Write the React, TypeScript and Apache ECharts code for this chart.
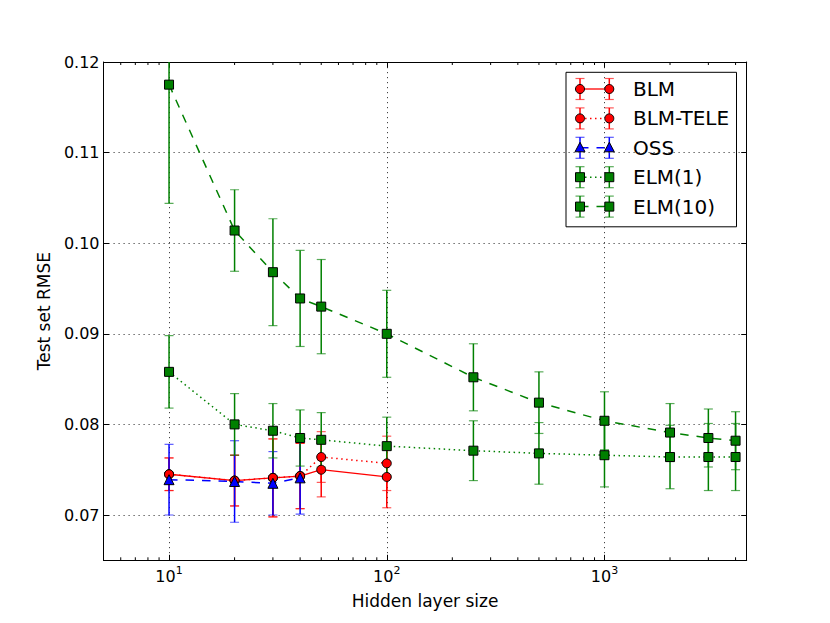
import React, { useEffect, useRef } from 'react';
import * as echarts from 'echarts';

const FONT = 'DejaVu Sans';
const X_MIN = 5;
const X_MAX = 4500;
const Y_MIN = 0.065;
const Y_MAX = 0.12;

const RED = '#ff0000';
const BLUE = '#0000ff';
const GREEN = '#008000';

// ---- data ----
const blmX = [10, 20, 30, 40, 50, 100];
const blmY = [0.0745, 0.0738, 0.0741, 0.0743, 0.075, 0.0742];
const blmErr = [0.0018, 0.0028, 0.0043, 0.0036, 0.003, 0.0034];

const teleX = [10, 20, 30, 40, 50, 100];
const teleY = [0.0745, 0.0738, 0.0741, 0.0743, 0.0764, 0.0757];
const teleErr = [0.0018, 0.0028, 0.0043, 0.0036, 0.0028, 0.003];

const ossX = [10, 20, 30, 40];
const ossY = [0.0739, 0.0737, 0.0735, 0.0741];
const ossErr = [0.0039, 0.0045, 0.0035, 0.004];

const elmX = [10, 20, 30, 40, 50, 100, 250, 500, 1000, 2000, 3000, 4000];
const elm1Y = [0.0858, 0.08, 0.0793, 0.0785, 0.0783, 0.0776, 0.0771, 0.0768, 0.0766, 0.0764, 0.0764, 0.0764];
const elm1Err = [0.004, 0.0034, 0.003, 0.0031, 0.003, 0.0032, 0.0033, 0.0034, 0.0035, 0.0035, 0.0037, 0.0037];
const elm10Y = [0.1175, 0.1014, 0.0968, 0.0939, 0.093, 0.09, 0.0852, 0.0824, 0.0804, 0.0791, 0.0785, 0.0782];
const elm10Err = [0.0131, 0.0045, 0.0059, 0.0053, 0.0052, 0.0048, 0.0037, 0.0034, 0.0032, 0.0032, 0.0032, 0.0032];

const minorTicks = [
  6, 7, 8, 9,
  20, 30, 40, 50, 60, 70, 80, 90,
  200, 300, 400, 500, 600, 700, 800, 900,
  2000, 3000, 4000,
];

const xAxisTitle = 'Hidden layer size';
const yAxisTitle = 'Test set RMSE';

type Style = 'solid' | 'dotted' | 'dashed';
type Sym = 'circle' | 'triangle' | 'rect';

const DASH: Record<Style, any> = {
  solid: 'solid',
  dotted: [1.5, 3.5],
  dashed: [8.5, 8],
};

const seriesDefs: { name: string; x: number[]; y: number[]; err: number[]; color: string; style: Style; symbol: Sym; width: number }[] = [
  { name: 'BLM', x: blmX, y: blmY, err: blmErr, color: RED, style: 'solid', symbol: 'circle', width: 1.3 },
  { name: 'BLM-TELE', x: teleX, y: teleY, err: teleErr, color: RED, style: 'dotted', symbol: 'circle', width: 1.5 },
  { name: 'OSS', x: ossX, y: ossY, err: ossErr, color: BLUE, style: 'dashed', symbol: 'triangle', width: 1.5 },
  { name: 'ELM(1)', x: elmX, y: elm1Y, err: elm1Err, color: GREEN, style: 'dotted', symbol: 'rect', width: 1.5 },
  { name: 'ELM(10)', x: elmX, y: elm10Y, err: elm10Err, color: GREEN, style: 'dashed', symbol: 'rect', width: 1.5 },
];

const CAP = 4.5;

function errorSeries(def: typeof seriesDefs[number]) {
  return {
    type: 'custom',
    name: def.name + '-err',
    xAxisIndex: 0,
    yAxisIndex: 0,
    clip: true,
    silent: true,
    encode: { x: 0, y: 1 },
    data: def.x.map((v, i) => [v, def.y[i], def.err[i]]),
    renderItem: (params: any, api: any) => {
      const x = api.value(0);
      const y = api.value(1);
      const e = api.value(2);
      const top = api.coord([x, y + e]);
      const bot = api.coord([x, y - e]);
      return {
        type: 'group',
        children: [
          { type: 'line', shape: { x1: top[0], y1: top[1], x2: bot[0], y2: bot[1] }, style: { stroke: def.color, lineWidth: 1.5 } },
          { type: 'line', shape: { x1: top[0] - CAP, y1: top[1], x2: top[0] + CAP, y2: top[1] }, style: { stroke: def.color, lineWidth: 1.2, opacity: 0.65 } },
          { type: 'line', shape: { x1: bot[0] - CAP, y1: bot[1], x2: bot[0] + CAP, y2: bot[1] }, style: { stroke: def.color, lineWidth: 1.2, opacity: 0.65 } },
        ],
      };
    },
  };
}

function lineSeries(def: typeof seriesDefs[number]) {
  return {
    type: 'line',
    name: def.name,
    xAxisIndex: 0,
    yAxisIndex: 0,
    data: def.x.map((v, i) => [v, def.y[i]]),
    symbol: def.symbol,
    symbolSize: def.symbol === 'triangle' ? 10 : 9,
    showAllSymbol: true,
    silent: true,
    lineStyle: { color: def.color, width: def.width, type: DASH[def.style] },
    itemStyle: { color: def.color, borderColor: '#000', borderWidth: 1 },
    emphasis: { disabled: true },
  };
}

const minorTickSeries = {
  type: 'custom',
  name: 'minor-ticks',
  xAxisIndex: 0,
  yAxisIndex: 0,
  clip: false,
  silent: true,
  encode: { x: 0, y: 1 },
  data: minorTicks.map((v) => [v, Y_MIN]),
  renderItem: (params: any, api: any) => {
    const cs = params.coordSys;
    const px = api.coord([api.value(0), Y_MIN])[0];
    const yb = cs.y + cs.height;
    const yt = cs.y;
    return {
      type: 'group',
      children: [
        { type: 'line', shape: { x1: px, y1: yb, x2: px, y2: yb - 3 }, style: { stroke: '#000', lineWidth: 1 } },
        { type: 'line', shape: { x1: px, y1: yt, x2: px, y2: yt + 3 }, style: { stroke: '#000', lineWidth: 1 } },
      ],
    };
  },
};

function buildLegend() {
  const left = 566;
  const top = 72.3;
  const w = 170.5;
  const h = 154.5;
  const rowY0 = 89;
  const rowStep = 29.4;
  const m1 = 580;
  const m2 = 609.3;
  const textX = 633;
  const children: any[] = [
    { type: 'rect', shape: { x: left, y: top, width: w, height: h }, style: { fill: '#fff', stroke: '#000', lineWidth: 1 } },
  ];
  seriesDefs.forEach((d, i) => {
    const cy = rowY0 + i * rowStep;
    const dash = d.style === 'solid' ? null : DASH[d.style];
    children.push({ type: 'line', shape: { x1: m1, y1: cy, x2: m2, y2: cy }, style: { stroke: d.color, lineWidth: d.width, lineDash: dash } });
    [m1, m2].forEach((mx) => {
      children.push({ type: 'line', shape: { x1: mx, y1: cy - 10.5, x2: mx, y2: cy + 10.5 }, style: { stroke: d.color, lineWidth: 1.5 } });
      children.push({ type: 'line', shape: { x1: mx - CAP, y1: cy - 10.5, x2: mx + CAP, y2: cy - 10.5 }, style: { stroke: d.color, lineWidth: 1.2, opacity: 0.65 } });
      children.push({ type: 'line', shape: { x1: mx - CAP, y1: cy + 10.5, x2: mx + CAP, y2: cy + 10.5 }, style: { stroke: d.color, lineWidth: 1.2, opacity: 0.65 } });
      const mstyle = { fill: d.color, stroke: '#000', lineWidth: 1 };
      if (d.symbol === 'circle') {
        children.push({ type: 'circle', shape: { cx: mx, cy, r: 4.5 }, style: mstyle });
      } else if (d.symbol === 'rect') {
        children.push({ type: 'rect', shape: { x: mx - 4.5, y: cy - 4.5, width: 9, height: 9 }, style: mstyle });
      } else {
        children.push({ type: 'polygon', shape: { points: [[mx, cy - 5.5], [mx + 5, cy + 4], [mx - 5, cy + 4]] }, style: mstyle });
      }
    });
    children.push({
      type: 'text',
      x: textX,
      y: cy,
      style: { text: d.name, font: `20px "${FONT}"`, fill: '#000', verticalAlign: 'middle', align: 'left' },
    });
  });
  return { type: 'group', z: 100, children };
}

const supFormatter = (v: number) => {
  const e = Math.log10(v);
  const r = Math.round(e);
  if (Math.abs(e - r) > 1e-6) return '';
  return `{b|10}{s|${r}}`;
};

const yFormatter = (v: number) => {
  if (Math.abs(v * 100 - Math.round(v * 100)) > 1e-6) return '';
  return v.toFixed(2);
};

export default function App() {
  const ref = useRef<HTMLDivElement>(null);
  useEffect(() => {
    if (!ref.current) return;
    const chart = echarts.init(ref.current, undefined, { renderer: 'svg' });
    const gridLine = { show: true, lineStyle: { color: '#444', width: 1, type: [1.2, 3.8] } };
    const option: any = {
      animation: false,
      backgroundColor: '#fff',
      textStyle: { fontFamily: FONT },
      grid: { left: 103.5, right: 83.3, top: 62, bottom: 62.7, containLabel: false },
      xAxis: [
        {
          type: 'log',
          logBase: 10,
          min: X_MIN,
          max: X_MAX,
          position: 'bottom',
          name: xAxisTitle,
          nameLocation: 'middle',
          nameGap: 32,
          nameTextStyle: { fontFamily: FONT, fontSize: 17, color: '#000' },
          axisLine: { show: true, onZero: false, lineStyle: { color: '#000', width: 1 } },
          axisTick: { show: true, inside: true, length: 5.5, lineStyle: { color: '#000', width: 1 } },
          minorTick: { show: false },
          splitLine: gridLine,
          axisLabel: {
            show: true,
            margin: 5,
            showMinLabel: false,
            showMaxLabel: false,
            formatter: supFormatter,
            rich: {
              b: { fontFamily: FONT, fontSize: 16, color: '#000', lineHeight: 22 },
              s: { fontFamily: FONT, fontSize: 11, color: '#000', lineHeight: 9.5, verticalAlign: 'top' },
            },
          },
        },
        {
          type: 'log',
          logBase: 10,
          min: X_MIN,
          max: X_MAX,
          position: 'top',
          axisLine: { show: true, onZero: false, lineStyle: { color: '#000', width: 1 } },
          axisTick: { show: true, inside: true, length: 5.5, lineStyle: { color: '#000', width: 1 } },
          splitLine: { show: false },
          axisLabel: { show: false },
        },
      ],
      yAxis: [
        {
          type: 'value',
          min: Y_MIN,
          max: Y_MAX,
          splitNumber: 5,
          position: 'left',
          name: yAxisTitle,
          nameLocation: 'middle',
          nameGap: 51,
          nameRotate: 90,
          nameTextStyle: { fontFamily: FONT, fontSize: 17, color: '#000' },
          axisLine: { show: true, onZero: false, lineStyle: { color: '#000', width: 1 } },
          axisTick: { show: true, inside: true, length: 5.5, lineStyle: { color: '#000', width: 1 } },
          splitLine: gridLine,
          axisLabel: { show: true, margin: 4, fontFamily: FONT, fontSize: 16, color: '#000', showMinLabel: false, formatter: yFormatter },
        },
        {
          type: 'value',
          min: Y_MIN,
          max: Y_MAX,
          splitNumber: 5,
          position: 'right',
          axisLine: { show: true, onZero: false, lineStyle: { color: '#000', width: 1 } },
          axisTick: { show: true, inside: true, length: 5.5, lineStyle: { color: '#000', width: 1 } },
          splitLine: { show: false },
          axisLabel: { show: false },
        },
      ],
      series: [
        minorTickSeries,
        ...seriesDefs.flatMap((d) => [errorSeries(d), lineSeries(d)]),
      ],
      graphic: [buildLegend()],
    };
    chart.setOption(option);
    return () => chart.dispose();
  }, []);
  return <div ref={ref} style={{ position: 'fixed', left: 0, top: 0, width: 830, height: 623 }} />;
}
